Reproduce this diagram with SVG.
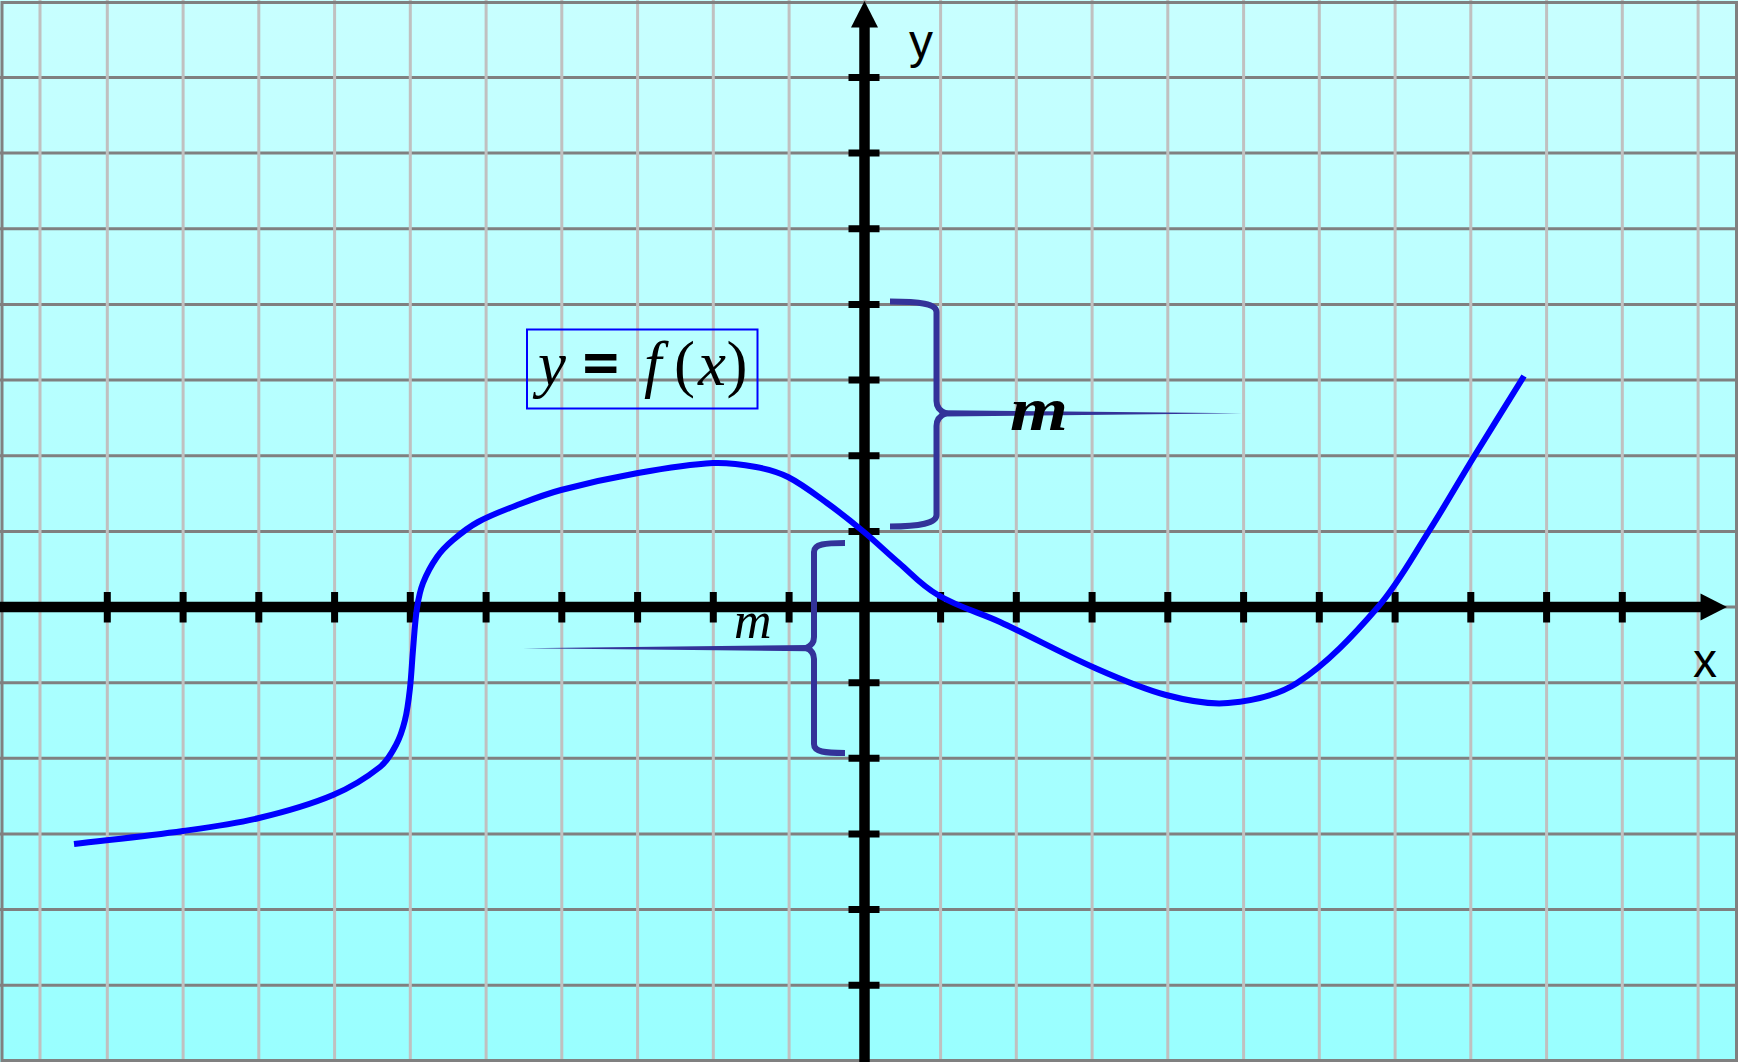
<svg xmlns="http://www.w3.org/2000/svg" width="1738" height="1062" viewBox="0 0 1738 1062">
<defs>
<linearGradient id="bg" x1="0" y1="0" x2="0" y2="1">
<stop offset="0" stop-color="#c8ffff"/>
<stop offset="1" stop-color="#99ffff"/>
</linearGradient>
<style>
.hgrid{fill:none;stroke:#808080;stroke-width:3}
.vgrid{fill:none;stroke:#c0c0c0;stroke-width:3}
.axis{fill:none;stroke:#000;stroke-width:10.5}
.tick{fill:none;stroke:#000;stroke-width:7}
.curve{fill:none;stroke:#0000ff;stroke-width:6}
.brace{fill:none;stroke:#333399;stroke-width:6}
.taper{fill:#333399}
.axlabel{font-family:"Liberation Sans",Arial,sans-serif;font-size:48px;fill:#000}
.math{font-family:"Liberation Serif","Times New Roman",serif;fill:#000}
</style>
</defs>
<g id="background">
<rect x="0" y="0" width="1738" height="1062" fill="url(#bg)"/>
</g>
<g id="grid">
<path class="hgrid" d="M0,77.5H1738M0,153.1H1738M0,228.8H1738M0,304.4H1738M0,380.1H1738M0,455.7H1738M0,531.4H1738M0,607H1738M0,682.7H1738M0,758.3H1738M0,834H1738M0,909.6H1738M0,985.3H1738"/>
<path class="vgrid" d="M40,0V1062M107.3,0V1062M183.1,0V1062M258.8,0V1062M334.6,0V1062M410.3,0V1062M486.1,0V1062M561.8,0V1062M637.6,0V1062M713.3,0V1062M789.1,0V1062M864.8,0V1062M940.6,0V1062M1016.3,0V1062M1092.1,0V1062M1167.8,0V1062M1243.6,0V1062M1319.3,0V1062M1395.1,0V1062M1470.8,0V1062M1546.6,0V1062M1622.3,0V1062M1698.1,0V1062"/>
<rect x="2" y="2.5" width="1734.5" height="1058" fill="none" stroke="#808080" stroke-width="3"/>
</g>
<g id="axes">
<path class="axis" d="M0,607H1702"/>
<polygon points="1727,607 1700.5,593.5 1700.5,620.5" fill="#000"/>
<path class="axis" d="M864.5,1062V26"/>
<polygon points="864.5,1 851,27.5 878,27.5" fill="#000"/>
<path class="tick" d="M107.3,592V622.5M183.1,592V622.5M258.8,592V622.5M334.6,592V622.5M410.3,592V622.5M486.1,592V622.5M561.8,592V622.5M637.6,592V622.5M713.3,592V622.5M789.1,592V622.5M940.6,592V622.5M1016.3,592V622.5M1092.1,592V622.5M1167.8,592V622.5M1243.6,592V622.5M1319.3,592V622.5M1395.1,592V622.5M1470.8,592V622.5M1546.6,592V622.5M1622.3,592V622.5"/>
<path class="tick" d="M848.5,77.5H879.5M848.5,153.1H879.5M848.5,228.8H879.5M848.5,304.4H879.5M848.5,380.1H879.5M848.5,455.7H879.5M848.5,531.4H879.5M848.5,682.7H879.5M848.5,758.3H879.5M848.5,834H879.5M848.5,909.6H879.5M848.5,985.3H879.5"/>
<text class="axlabel" x="909" y="58">y</text>
<text class="axlabel" x="1693" y="677">x</text>
</g>
<g id="curve">
<path class="curve" d="M74,844C110.3,839.7 146.8,836.1 183,831C208.4,827.4 234.1,824 259,818C284.1,812 309.4,805 333,795C349.7,788 366,778.1 380,767C387,761.5 391.8,752.9 396,745C400.1,737.3 402.9,728.6 405,720C407.6,709.6 408.8,698.7 410,688C411.4,675.4 411.9,662.7 413,650C414.2,636 414.9,621.9 417,608C418.3,599.5 419.9,590.9 423,583C426.6,573.9 431.4,565 437,557C441.4,550.7 447.1,545 453,540C460.8,533.4 469,526.8 478,522C491.3,514.8 505.8,509.5 520,504C533.5,498.8 547.1,493.7 561,490C586.4,483.3 612.1,477.6 638,473C662.8,468.6 688,464.3 713,463C727.3,462.3 741.9,464.4 756,467C766.9,469 778.1,472 788,477C801.8,484 814.3,493.8 827,503C839.7,512.2 852,522 864,532C876,542 887.1,552.9 899,563C911.8,573.9 921,585.3 938,595C959,607.5 979.6,612.5 1000,622C1031.9,636.8 1062.8,653.9 1095,668C1118.2,678.2 1141.7,688.6 1166,695C1186,700.3 1207.7,704.9 1228,703C1251.3,700.9 1277.4,695.6 1297,683C1327.4,663.6 1353.9,634.8 1378,607C1397.9,584.1 1412.6,556.7 1429,531C1444.9,506 1459.5,480.2 1475,455C1491.2,428.6 1507.7,402.3 1524,376"/>
</g>
<g id="formula">
<rect x="527" y="329.5" width="230.5" height="79" fill="none" stroke="#0000ff" stroke-width="2"/>
<text class="math" font-size="63" y="385"><tspan x="538" font-style="italic">y</tspan><tspan x="583" font-weight="bold" stroke="#000" stroke-width="2">=</tspan><tspan x="644" font-style="italic">f</tspan><tspan x="674">(</tspan><tspan x="698" font-style="italic">x</tspan><tspan x="726.5">)</tspan></text>
</g>
<g id="connectors">
<g id="brace-upper">
<path class="brace" d="M890,301.5C920,301.5 936.5,304 936.5,312L936.5,401Q936.5,410 946,413.3Q936.5,417 936.5,426L936.5,515C936.5,523 920,526.5 890,526.5"/>
<polygon class="taper" points="944,410.3 1242,413.3 944,416.6"/>
</g>
<g id="brace-lower">
<path class="brace" d="M845,543C825,543 814,544 814,552L814,637Q814,645 806,648Q814,651 814,659L814,744C814,752 825,753 845,753"/>
<polygon class="taper" points="808,645 523,648.3 808,651.3"/>
</g>
</g>
<g id="label-m-upper">
<text class="math" font-size="62" font-style="italic" font-weight="bold" x="1010" y="430" textLength="58" lengthAdjust="spacingAndGlyphs">m</text>
</g>
<g id="label-m-lower">
<text class="math" font-size="52" font-style="italic" x="734" y="638">m</text>
</g>
</svg>
